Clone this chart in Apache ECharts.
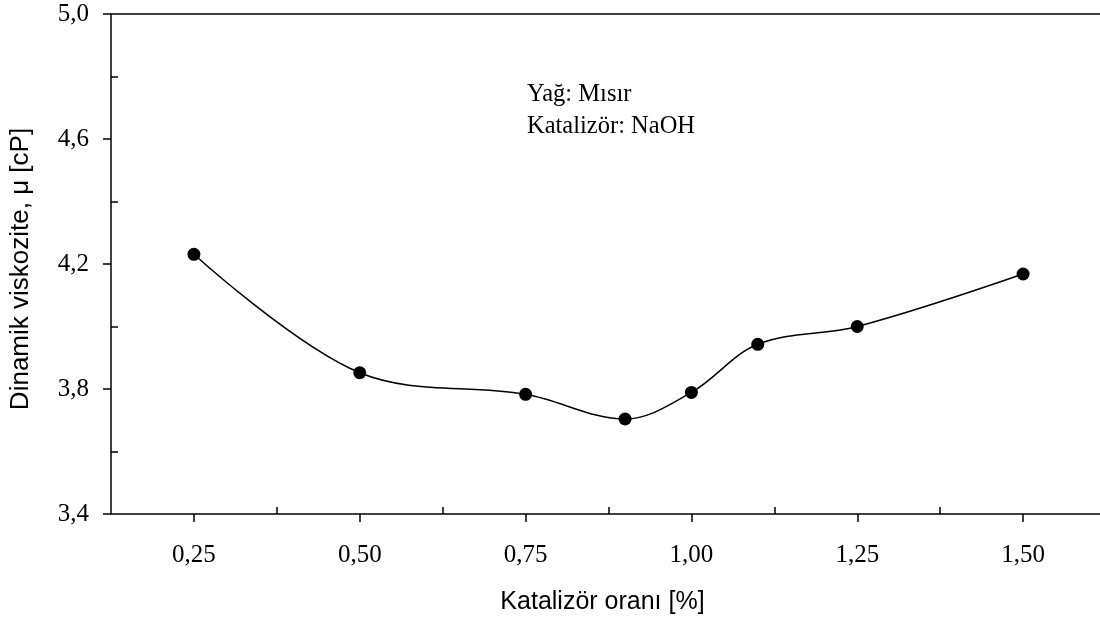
<!DOCTYPE html>
<html>
<head>
<meta charset="utf-8">
<script src="https://cdn.jsdelivr.net/npm/echarts@6/dist/echarts.min.js"></script>
<style>
  html, body { margin: 0; padding: 0; background: #fff; }
  #chart { width: 1100px; height: 624px; }
</style>
</head>
<body>
<div id="chart"></div>
<script>
// Catalyst ratio (%) and measured dynamic viscosity (cP)
const catalystRatio = [0.25, 0.50, 0.75, 0.90, 1.00, 1.10, 1.25, 1.50];
const viscosity = [4.231, 3.852, 3.783, 3.704, 3.789, 3.943, 4.000, 4.168];

// Axis tick positions
const xMajorTicks = [0.25, 0.50, 0.75, 1.00, 1.25, 1.50];
const xMinorTicks = [0.375, 0.625, 0.875, 1.125, 1.375];
const yMajorTicks = [3.4, 3.8, 4.2, 4.6, 5.0];
const yMinorTicks = [3.6, 4.0, 4.4, 4.8];

// Text
const xTitle = 'Katalizör oranı [%]';
const yTitle = 'Dinamik viskozite, μ [cP]';
const noteLines = ['Yağ: Mısır', 'Katalizör: NaOH'];

const serif = '"Liberation Serif", "DejaVu Serif", serif';
const sans = '"Liberation Sans", Arial, sans-serif';
const comma = (v, d) => v.toFixed(d).replace('.', ',');
const black = { color: '#000', width: 1.5 };

const chart = echarts.init(document.getElementById('chart'), null, { renderer: 'canvas' });

const baseX = { type: 'value', min: 0.125, max: 1.625, splitLine: { show: false } };
const baseY = { type: 'value', min: 3.4, max: 5.0, splitLine: { show: false } };

chart.setOption({
  animation: false,
  backgroundColor: '#fff',
  grid: {
    left: 111, top: 14, width: 995, height: 500,
    outerBoundsMode: 'none', containLabel: false, show: false
  },
  xAxis: [
    Object.assign({}, baseX, {
      position: 'bottom',
      axisLine: { show: true, lineStyle: black },
      axisTick: { show: true, inside: false, length: 8, customValues: xMajorTicks, lineStyle: black },
      axisLabel: {
        show: true, customValues: xMajorTicks, margin: 29,
        formatter: v => comma(v, 2),
        color: '#000', fontFamily: serif, fontSize: 25
      },
      name: xTitle, nameLocation: 'middle', nameGap: 76,
      nameTextStyle: { color: '#000', fontFamily: sans, fontSize: 25, padding: [0, 12, 0, 0] }
    }),
    Object.assign({}, baseX, {
      position: 'bottom',
      axisLine: { show: false },
      axisTick: { show: true, inside: true, length: 7, customValues: xMinorTicks, lineStyle: black },
      axisLabel: { show: false }
    }),
    // top frame line
    Object.assign({}, baseX, {
      position: 'top',
      axisLine: { show: true, lineStyle: black },
      axisTick: { show: false },
      axisLabel: { show: false }
    })
  ],
  yAxis: [
    Object.assign({}, baseY, {
      position: 'left',
      axisLine: { show: true, lineStyle: black },
      axisTick: { show: true, inside: false, length: 8, customValues: yMajorTicks, lineStyle: black },
      axisLabel: {
        show: true, customValues: yMajorTicks, margin: 22,
        formatter: v => comma(v, 1),
        color: '#000', fontFamily: serif, fontSize: 25
      },
      name: yTitle, nameLocation: 'middle', nameGap: 77, nameRotate: 90,
      nameTextStyle: { color: '#000', fontFamily: sans, fontSize: 26, padding: [0, 10, 0, 0] }
    }),
    Object.assign({}, baseY, {
      position: 'left',
      axisLine: { show: false },
      axisTick: { show: true, inside: true, length: 7, customValues: yMinorTicks, lineStyle: black },
      axisLabel: { show: false }
    })
  ],
  graphic: noteLines.map((t, i) => ({
    type: 'text',
    left: 527,
    top: 82 + i * 32,
    style: { text: t, fill: '#000', font: '24.5px ' + serif }
  })),
  series: [{
    type: 'line',
    xAxisIndex: 0, yAxisIndex: 0,
    data: catalystRatio.map((x, i) => [x, viscosity[i]]),
    smooth: 0.35,
    symbol: 'circle',
    symbolSize: 13,
    lineStyle: black,
    itemStyle: { color: '#000' }
  }]
});
</script>
</body>
</html>
